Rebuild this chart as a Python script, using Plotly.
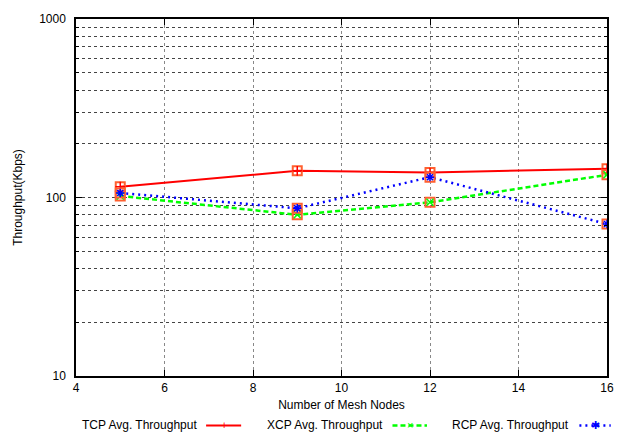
import plotly.graph_objects as go

# Mesh size vs. average throughput (Kbps)
nodes = [5, 9, 12, 16]
tcp = [115, 141, 138, 145]
xcp = [102, 80, 94, 134]
rcp = [106, 87, 130, 71]

series = [
    ("TCP Avg. Throughput", tcp, "#ff0000", "solid", 2, "cross-thin", "+"),
    ("XCP Avg. Throughput", xcp, "#00ff00", "5px,3px", 2.5, "x-thin", "×"),
    ("RCP Avg. Throughput", rcp, "#0000ff", "2px,4px", 2.5, "asterisk", "✱"),
]

FONT = "Liberation Sans, Arial, sans-serif"
fig = go.Figure()

for name, vals, color, dash, width, sym, _ in series:
    fig.add_trace(go.Scatter(
        x=nodes, y=vals, mode="lines", name=name,
        line=dict(color=color, dash=dash, width=width),
        showlegend=False,
    ))
for name, vals, color, dash, width, sym, _ in series:
    # error box around each sample
    fig.add_trace(go.Scatter(
        x=nodes, y=vals, mode="markers", showlegend=False,
        marker=dict(symbol="square-open", size=9, color="#ff6030",
                    line=dict(width=2, color="#ff6030")),
    ))
    fig.add_trace(go.Scatter(
        x=nodes, y=vals, mode="markers", showlegend=False,
        marker=dict(symbol=sym, size=7, color=color,
                    line=dict(width=1.5, color=color)),
    ))

minor_y = [v * m for m in (10, 100) for v in range(2, 10)]

fig.update_xaxes(
    range=[4, 16], tickvals=list(range(4, 17, 2)),
    ticks="inside", ticklen=6, tickcolor="black",
    showline=True, linecolor="black", linewidth=1.5, mirror="ticks",
    showgrid=True, gridcolor="#888888", griddash="dot", gridwidth=1,
    zeroline=False,
    title=dict(text="Number of Mesh Nodes", font=dict(size=12, color="black"), standoff=6),
    tickfont=dict(size=12, color="black"),
)
fig.update_yaxes(
    type="log", range=[1, 3], tickvals=[10, 100, 1000],
    ticks="inside", ticklen=6, tickcolor="black",
    showline=True, linecolor="black", linewidth=1.5, mirror="ticks",
    showgrid=True, gridcolor="#444444", griddash="dot", gridwidth=1,
    minor=dict(tickvals=minor_y, ticks="inside", ticklen=3, tickcolor="black",
               showgrid=True, gridcolor="#444444", griddash="dot", gridwidth=1),
    zeroline=False,
    ticklabelstandoff=6,
    title=dict(text="Throughput(Kbps)", font=dict(size=12, color="black"), standoff=14),
    tickfont=dict(size=12, color="black"),
)

# Legend row below the axis: label text followed by its line sample
legend_pos = [(0.232, 0.245, 0.311), (0.582, 0.596, 0.661), (0.933, 0.948, 1.007)]
ly = -0.1385
for (name, vals, color, dash, width, sym, glyph), (tx, x0, x1) in zip(series, legend_pos):
    fig.add_annotation(x=tx, y=ly, xref="paper", yref="paper", text=name,
                       showarrow=False, xanchor="right", yanchor="middle",
                       font=dict(size=12, color="black", family=FONT))
    fig.add_shape(type="line", xref="paper", yref="paper", x0=x0, x1=x1, y0=ly, y1=ly,
                  line=dict(color=color, dash=dash, width=width))
    fig.add_annotation(x=(x0 + x1) / 2, y=ly, xref="paper", yref="paper", text=glyph,
                       showarrow=False, xanchor="center", yanchor="middle",
                       font=dict(size=11, color=color, family=FONT))

fig.update_layout(
    width=626, height=437,
    margin=dict(l=76, r=16, t=15, b=61),
    plot_bgcolor="white", paper_bgcolor="white",
    font=dict(family=FONT, size=12, color="black"),
    showlegend=False,
)

fig.write_html("out.html")
